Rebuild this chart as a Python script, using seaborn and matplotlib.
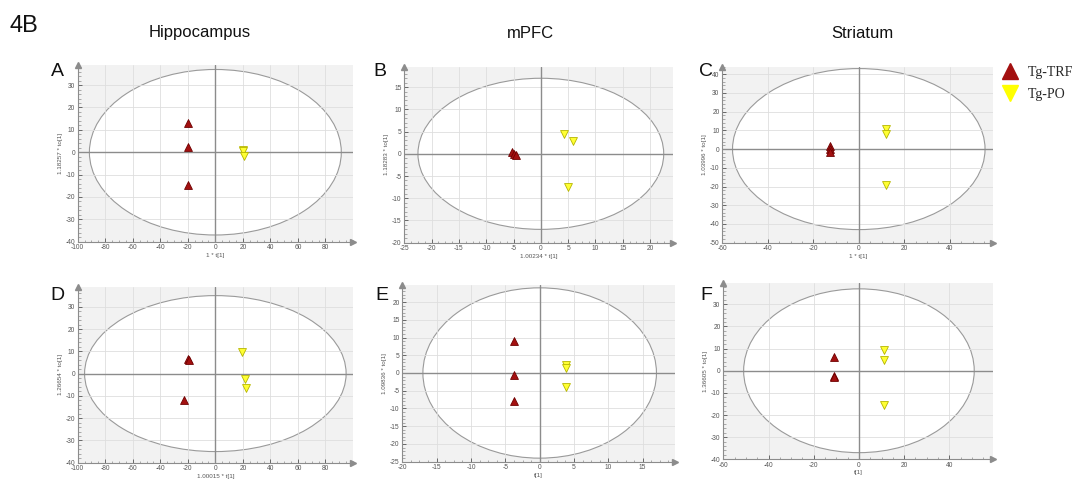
import numpy as np
import pandas as pd
import matplotlib
matplotlib.use("Agg")
import matplotlib.pyplot as plt
import seaborn as sns
from matplotlib.patches import Ellipse
from matplotlib.ticker import MultipleLocator, FixedLocator
from matplotlib.lines import Line2D

sns.set_theme(style="white")
plt.rcParams['font.family'] = ['Liberation Sans', 'DejaVu Sans']
plt.rcParams['axes.unicode_minus'] = False

# ---------------- data ----------------
groups = ["Tg-TRF"] * 3 + ["Tg-PO"] * 3

a_x = [-20, -20, -20, 20, 20, 20.5]
a_y = [13, 2.5, -14.5, 1, 0.5, -1.5]
b_x = [-5.3, -5.0, -4.6, 4.3, 5.8, 4.9]
b_y = [0.3, 0.0, -0.2, 4.5, 2.9, -7.5]
c_x = [-12.5, -12.5, -12.5, 12, 12, 12]
c_y = [1.5, 0.2, -1.5, 10.5, 8, -19]
d_x = [-20, -19.5, -22.5, 19, 21.5, 22]
d_y = [6.5, 6.0, -12, 9.5, -2.5, -6.5]
e_x = [-3.7, -3.7, -3.7, 3.8, 3.8, 3.8]
e_y = [9, -0.5, -8, 2.3, 1.5, -4]
f_x = [-11, -11, -11, 11, 11, 11]
f_y = [6, -2.5, -3, 9.5, 5, -15.5]

panel_letters = ["A", "B", "C", "D", "E", "F"]
column_titles = ["Hippocampus", "mPFC", "Striatum"]
x_labels = ["1 * t[1]", "1.00234 * t[1]", "1 * t[1]", "1.00015 * t[1]", "t[1]", "t[1]"]
y_labels = ["1.18257 * to[1]", "1.18283 * to[1]", "1.03996 * to[1]",
            "1.26654 * to[1]", "1.09836 * to[1]", "1.36605 * to[1]"]
ellipse_rx = [91.5, 22.5, 55.5, 95, 17, 51]
ellipse_ry = [37, 17, 43, 35, 24, 37]
xlims = [(-100, 100), (-25, 24.2), (-60, 59), (-100, 100), (-20, 19.7), (-60, 59.3)]
ylims = [(-40, 39), (-20, 19.6), (-50, 44), (-40, 39), (-25, 24.8), (-40, 39.5)]
x_major = [20, 5, 20, 20, 5, 20]
y_major = [10, 5, 10, 10, 5, 10]
x_tick_max = [80, 20, 40, 80, 15, 40]
y_tick_max = [30, 15, 40, 30, 20, 30]

# pixel boxes (left, right, top, bottom) in figure pixels
boxes = [(77.7, 353, 65, 241.7), (404.3, 673, 66.7, 242.7), (722.3, 993, 66.7, 242.7),
         (77.7, 353, 286.7, 462.7), (402.3, 675, 285, 461.7), (723.3, 993, 283.3, 459.3)]
letter_pos = [(57, 72), (380, 72), (706, 72), (57, 296), (382, 296), (706, 296)]

W, H = 1076, 496
fig = plt.figure(figsize=(W / 100, H / 100), dpi=100)
fig.patch.set_facecolor("white")

palette = {"Tg-TRF": "#a31010", "Tg-PO": "#ffff33"}
markers = {"Tg-TRF": "^", "Tg-PO": "v"}
edges = {"Tg-TRF": "#6e0000", "Tg-PO": "#b5b500"}

xs = [a_x, b_x, c_x, d_x, e_x, f_x]
ys = [a_y, b_y, c_y, d_y, e_y, f_y]

for i in range(6):
    l, r, t, b = boxes[i]
    ax = fig.add_axes([l / W, 1 - b / H, (r - l) / W, (b - t) / H])
    ax.set_facecolor("#f2f2f2")
    df = pd.DataFrame({"x": xs[i], "y": ys[i], "group": groups})
    ax.add_patch(Ellipse((0, 0), 2 * ellipse_rx[i], 2 * ellipse_ry[i],
                         facecolor="white", edgecolor="#9a9a9a", lw=0.8, zorder=1))
    ax.set_axisbelow("line")
    ax.axhline(0, color="#8c8c8c", lw=1.0, zorder=2)
    ax.axvline(0, color="#8c8c8c", lw=1.0, zorder=2)
    for g in ["Tg-TRF", "Tg-PO"]:
        sub = df[df.group == g]
        sns.scatterplot(data=sub, x="x", y="y", ax=ax, color=palette[g], marker=markers[g],
                        s=32, edgecolor=edges[g], linewidth=0.6, zorder=3, legend=False)
    ax.set_xlim(*xlims[i])
    ax.set_ylim(*ylims[i])
    xt = np.arange(xlims[i][0], x_tick_max[i] + 0.01, x_major[i])
    yt = np.arange(ylims[i][0], y_tick_max[i] + 0.01, y_major[i])
    ax.xaxis.set_major_locator(FixedLocator(xt))
    ax.yaxis.set_major_locator(FixedLocator(yt))
    ax.xaxis.set_minor_locator(MultipleLocator(x_major[i] / 4))
    ax.yaxis.set_minor_locator(MultipleLocator(y_major[i] / 5))
    ax.grid(True, which="major", color="#dedede", lw=0.6, zorder=1.5)
    for s in ["top", "right"]:
        ax.spines[s].set_visible(False)
    for s in ["left", "bottom"]:
        ax.spines[s].set_color("#8c8c8c")
        ax.spines[s].set_linewidth(0.8)
    ax.tick_params(axis="both", which="major", labelsize=4.8, colors="#555555",
                   length=3, width=0.6, direction="in", pad=2, bottom=True, left=True)
    ax.tick_params(axis="both", which="minor", length=1.8, width=0.5, color="#8c8c8c",
                   direction="in", bottom=True, left=True)
    ax.set_xlabel(x_labels[i], fontsize=4.5, color="#555555", labelpad=1)
    ax.set_ylabel(y_labels[i], fontsize=4.5, color="#555555", labelpad=2)
    ax.plot(1, 0, ">", color="#8c8c8c", ms=4, transform=ax.transAxes, clip_on=False)
    ax.plot(0, 1, "^", color="#8c8c8c", ms=4, transform=ax.transAxes, clip_on=False)
    lx, ly = letter_pos[i]
    fig.text(lx / W, 1 - ly / H, panel_letters[i], fontsize=14,
             ha="center", va="center", color="#111111")

fig.text(10 / W, 1 - 26 / H, "4B", fontsize=17, ha="left", va="center", color="#111111")
for cx, title in zip([200, 530, 862], column_titles):
    fig.text(cx / W, 1 - 33 / H, title, fontsize=12, ha="center", va="center", color="#111111")

handles = [Line2D([], [], marker="^", color="#a31010", markeredgecolor="#a31010", ls="", ms=12),
           Line2D([], [], marker="v", color="#ffff00", markeredgecolor="#ffff00", ls="", ms=12)]
fig.legend(handles, ["Tg-TRF", "Tg-PO"], loc="upper left",
           bbox_to_anchor=(993 / W, 1 - 58 / H), frameon=False,
           prop={"family": "Liberation Serif", "size": 10}, handletextpad=0.6,
           labelspacing=0.6, handlelength=1.3, borderaxespad=0.2)

fig.savefig("out.png", dpi=100)
